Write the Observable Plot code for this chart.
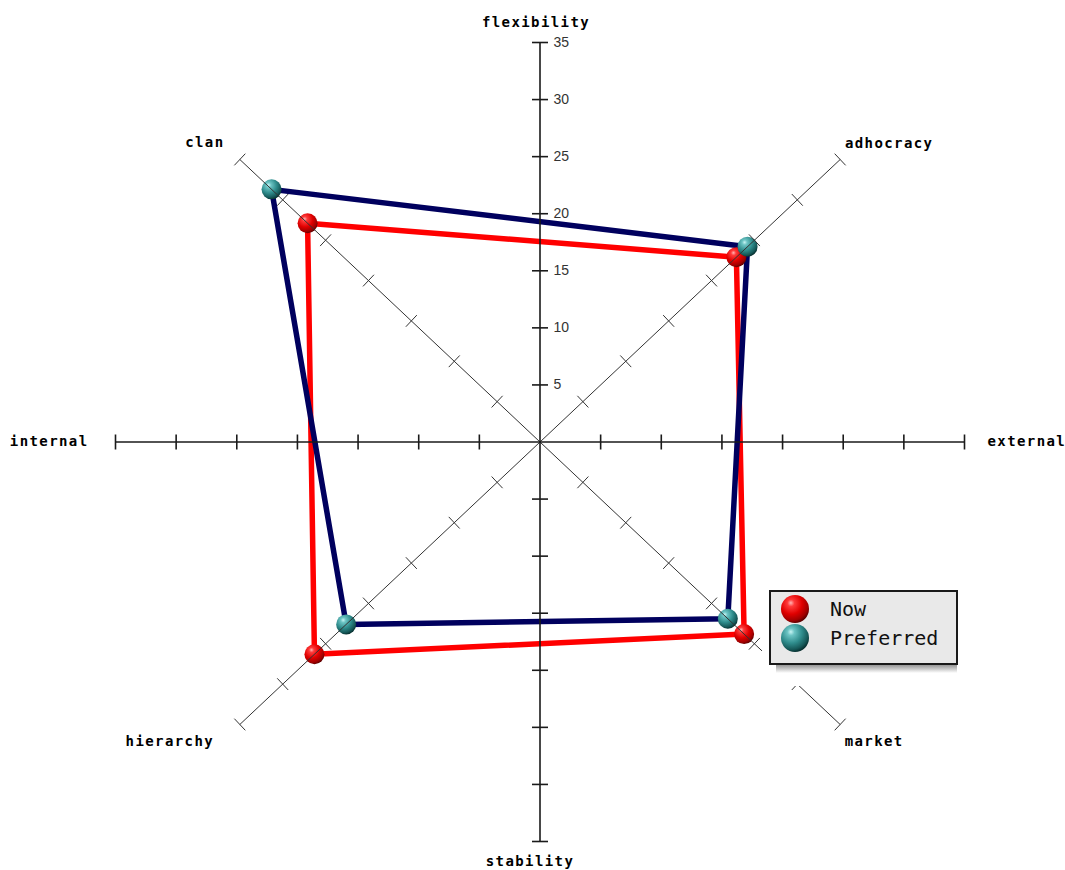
<!DOCTYPE html>
<html><head><meta charset="utf-8">
<script src="https://cdn.jsdelivr.net/npm/d3@7"></script>
<script src="https://cdn.jsdelivr.net/npm/@observablehq/plot@0.6"></script>
<style>
body{margin:0;background:#fff;}
#wrap{position:relative;width:1065px;height:870px;overflow:hidden;}
#legend{position:absolute;left:760px;top:583px;}
</style></head><body><div id="wrap"></div>
<script>
// ---- data ----
const categories = ["clan", "adhocracy", "market", "hierarchy"];
const nowValues = [27.1, 22.9, 23.8, 26.3];
const preferredValues = [31.3, 24.2, 21.9, 22.6];
const seriesNames = ["Now", "Preferred"];
const axisNames = ["flexibility", "adhocracy", "external", "market", "stability", "hierarchy", "internal", "clan"];
const tickValues = [5, 10, 15, 20, 25, 30, 35];
const tickLabels = ["5", "10", "15", "20", "25", "30", "35"];
const maxValue = 35;

// ---- geometry / style ----
const axisAngle = {flexibility: 90, adhocracy: 45, external: 0, market: -45, stability: -90, hierarchy: -135, internal: 180, clan: 135};
const mainAxes = new Set(["flexibility", "stability", "internal", "external"]);
const labelStyle = {
  flexibility: {dx: -4, dy: -20, anchor: "middle"},
  stability: {dx: -10, dy: 20, anchor: "middle"},
  internal: {dx: -27, dy: 0, anchor: "end"},
  external: {dx: 23, dy: 0, anchor: "start"},
  clan: {dx: -35, dy: -17, anchor: "middle"},
  adhocracy: {dx: 49, dy: -16, anchor: "middle"},
  hierarchy: {dx: -70, dy: 17, anchor: "middle"},
  market: {dx: 34, dy: 17, anchor: "middle"}
};
const W = 1065, H = 870;
const xRange = [115, 964], yRange = [841, 42];
const kx = (xRange[1] - xRange[0]) / (2 * maxValue);
const ky = (yRange[0] - yRange[1]) / (2 * maxValue);
const rad = d => d * Math.PI / 180;
const polar = (r, deg) => ({x: r * Math.cos(rad(deg)), y: r * Math.sin(rad(deg))});

const spokes = axisNames.map(name => ({name, main: mainAxes.has(name), ...polar(maxValue, axisAngle[name])}));

function tickSeg(name, r, h) {
  const a = rad(axisAngle[name]);
  let ux = Math.cos(a) * kx, uy = -Math.sin(a) * ky;
  const n = Math.hypot(ux, uy); ux /= n; uy /= n;
  const px = -uy * h, py = ux * h;
  const c = polar(r, axisAngle[name]);
  return {name, main: mainAxes.has(name), x1: c.x + px / kx, y1: c.y - py / ky, x2: c.x - px / kx, y2: c.y + py / ky};
}
const ticks = axisNames.flatMap(name => tickValues.map(v => tickSeg(name, v, name === "internal" || name === "external" ? 7.5 : 8)));

function seriesPoints(series, values) {
  return categories.map((c, i) => ({series, category: c, value: values[i], ...polar(values[i], axisAngle[c])}));
}
const nowPts = seriesPoints(seriesNames[0], nowValues);
const prefPts = seriesPoints(seriesNames[1], preferredValues);
const allPts = [...nowPts, ...prefPts];

const lineColor = {Now: "#ff0000", Preferred: "#00005e"};
const ballFill = {Now: "url(#ballNow)", Preferred: "url(#ballPref)"};

const chart = Plot.plot({
  width: W, height: H, margin: 0,
  x: {domain: [-maxValue, maxValue], range: xRange, axis: null},
  y: {domain: [-maxValue, maxValue], range: yRange, axis: null},
  style: {background: "#fff", overflow: "visible"},
  marks: [
    Plot.line([...nowPts, nowPts[0]], {x: "x", y: "y", stroke: lineColor.Now, strokeWidth: 5.5, strokeLinejoin: "round"}),
    Plot.line([...prefPts, prefPts[0]], {x: "x", y: "y", stroke: lineColor.Preferred, strokeWidth: 5.5, strokeLinejoin: "round"}),
    Plot.dot(allPts, {x: "x", y: "y", r: 10, fill: d => ballFill[d.series], sort: "value"}),
    Plot.link(spokes.filter(d => !d.main), {x1: d => 0, y1: d => 0, x2: "x", y2: "y", stroke: "#333", strokeWidth: 1}),
    Plot.link(spokes.filter(d => d.main), {x1: d => 0, y1: d => 0, x2: "x", y2: "y", stroke: "#1a1a1a", strokeWidth: 1.6}),
    Plot.link(ticks.filter(d => !d.main), {x1: "x1", y1: "y1", x2: "x2", y2: "y2", stroke: "#333", strokeWidth: 1}),
    Plot.link(ticks.filter(d => d.main), {x1: "x1", y1: "y1", x2: "x2", y2: "y2", stroke: "#1a1a1a", strokeWidth: 1.6}),
    Plot.text(tickValues, {x: d => 0, y: d => d, text: (d, i) => tickLabels[i], dx: 13.5, textAnchor: "start", fontSize: 14, fontFamily: "Liberation Sans, Arial, sans-serif", fill: "#333"}),
    ...axisNames.map(name => Plot.text([spokes.find(s => s.name === name)], {
      x: "x", y: "y", text: "name", dx: labelStyle[name].dx, dy: labelStyle[name].dy,
      textAnchor: labelStyle[name].anchor, fontSize: 14, fontWeight: "bold",
      fontFamily: "DejaVu Sans Mono, monospace", fill: "#000"
    }))
  ]
});

d3.select(chart).selectAll("text").filter(function() { return axisNames.includes(this.textContent); })
  .style("letter-spacing", "1.4px");

function addBallDefs(sel, ids) {
  const defs = sel.insert("defs", ":first-child");
  const mk = (id, stops) => {
    const g = defs.append("radialGradient").attr("id", id).attr("cx", "38%").attr("cy", "32%").attr("r", "70%").attr("fx", "35%").attr("fy", "28%");
    stops.forEach(([o, c]) => g.append("stop").attr("offset", o).attr("stop-color", c));
  };
  mk(ids[0], [["0%", "#ffb4b4"], ["18%", "#ff3a3a"], ["55%", "#e00000"], ["85%", "#a00000"], ["100%", "#5a0000"]]);
  mk(ids[1], [["0%", "#c8f4f4"], ["18%", "#6cc4c4"], ["55%", "#2f8c8c"], ["85%", "#165858"], ["100%", "#062e2e"]]);
}
addBallDefs(d3.select(chart), ["ballNow", "ballPref"]);
document.getElementById("wrap").appendChild(chart);

// ---- legend ----
const leg = d3.select("#wrap").append("svg").attr("id", "legend").attr("width", 210).attr("height", 110);
addBallDefs(leg, ["legNow", "legPref"]);
const sh = leg.select("defs").append("linearGradient").attr("id", "shadowGrad").attr("x1", 0).attr("y1", 0).attr("x2", 0).attr("y2", 1);
sh.append("stop").attr("offset", "0%").attr("stop-color", "#8a8a8a");
sh.append("stop").attr("offset", "100%").attr("stop-color", "#ffffff");
leg.append("rect").attr("x", 2).attr("y", 1).attr("width", 203).attr("height", 102).attr("fill", "#fff");
leg.append("rect").attr("x", 16).attr("y", 81).attr("width", 181).attr("height", 9).attr("fill", "url(#shadowGrad)");
leg.append("rect").attr("x", 10).attr("y", 8).attr("width", 187).attr("height", 73).attr("fill", "#e9e9e9").attr("stroke", "#1a1a1a").attr("stroke-width", 2);
seriesNames.forEach((s, i) => {
  leg.append("circle").attr("cx", 35).attr("cy", 26 + i * 29).attr("r", 14).attr("fill", i === 0 ? "url(#legNow)" : "url(#legPref)");
  leg.append("text").attr("x", 70).attr("y", 26 + i * 29 + 7).text(s)
    .attr("font-family", "DejaVu Sans Mono, monospace").attr("font-size", 20).attr("fill", "#111");
});
</script></body></html>
